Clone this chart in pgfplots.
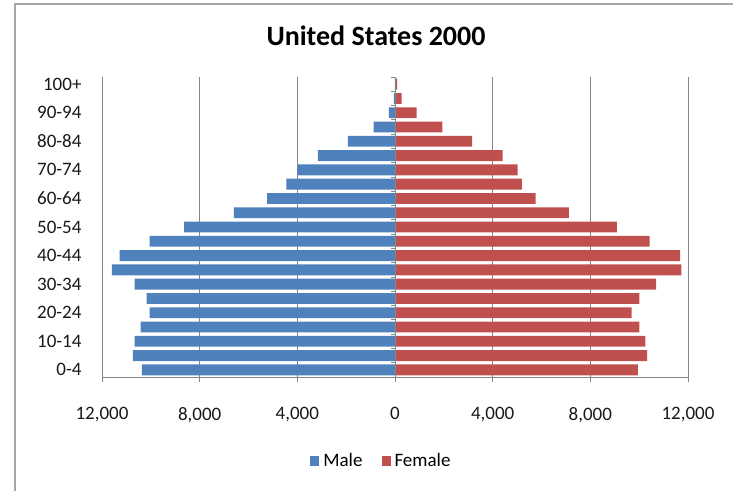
\documentclass[border=0pt]{standalone}
\usepackage{pgfplots}
\pgfplotsset{compat=1.18}
\usepackage{fontspec}
\setmainfont{Carlito}
\definecolor{male}{HTML}{4F81BD}
\definecolor{female}{HTML}{C0504D}
\definecolor{gridc}{HTML}{868686}
\definecolor{frame}{HTML}{A6A6A6}
\begin{document}
\begin{tikzpicture}
\useasboundingbox (0pt,0pt) rectangle (733pt,491pt);
\draw[frame,line width=1.2pt] (15pt,0pt) -- (15pt,487pt) -- (733pt,487pt);
\node[font=\fontsize{28}{32}\selectfont\bfseries] at (376pt,455pt) {United States 2000};
\begin{axis}[
  at={(102pt,114pt)}, anchor=south west,
  scale only axis, width=586pt, height=300pt,
  xmin=-12000, xmax=12000, ymin=-0.5, ymax=20.5,
  xbar, bar width=0.76, bar shift=0pt,
  axis x line*=bottom, axis y line*=left,
  y axis line style={draw=none},
  x axis line style={gridc, line width=0.9pt},
  tick align=outside,
  scaled x ticks=false,
  xtick={-12000,-8000,-4000,0,4000,8000,12000},
  xticklabels={{12,000},{8,000},{4,000},0,{4,000},{8,000},{12,000}},
  xtick style={gridc, line width=0.9pt},
  major tick length=5pt,
  xmajorgrids, grid style={gridc, line width=0.9pt},
  ytick={0,2,...,20},
  yticklabels={0-4,10-14,20-24,30-34,40-44,50-54,60-64,70-74,80-84,90-94,100+},
  ytick style={draw=none},
  ticklabel style={font=\fontsize{19}{22}\selectfont, text=black!90},
  yticklabel style={xshift=-12pt},
  xticklabel style={yshift=-22pt},
  legend style={at={(0.476,-0.28)}, anchor=center, draw=none, fill=none,
    legend columns=2, font=\fontsize{19}{22}\selectfont,
    nodes={inner sep=1pt},
    /tikz/every even column/.append style={column sep=18pt}},
  legend cell align=left,
  legend image code/.code={\path (0pt,0pt) -- (12pt,0pt); \path[#1,draw=none] (0pt,-5pt) rectangle (9pt,5pt);},
]
\addplot[fill=male, draw=none] coordinates {
(-10362,0) (-10731,1) (-10662,2) (-10416,3) (-10046,4) (-10169,5) (-10662,6)
(-11594,7) (-11278,8) (-10046,9) (-8637,10) (-6596,11) (-5241,12) (-4448,13)
(-3996,14) (-3162,15) (-1930,16) (-875,17) (-246,18) (-50,19) (-10,20)};
\addlegendentry{Male}
\addplot[fill=female, draw=none] coordinates {
(9951,0) (10321,1) (10251,2) (10005,3) (9692,4) (10005,5) (10690,6)
(11730,7) (11676,8) (10431,9) (9089,10) (7117,11) (5762,12) (5199,13)
(5023,14) (4407,15) (3162,16) (1943,17) (887,18) (271,19) (82,20)};
\addlegendentry{Female}
\draw[gridc, line width=0.9pt] (axis cs:0,-0.5) -- (axis cs:0,20.5);
\pgfplotsinvokeforeach{-0.5,0.5,...,20.5}{\draw[gridc, line width=0.9pt] (axis cs:0,#1) -- ++(-4pt,0pt);}
\end{axis}
\end{tikzpicture}
\end{document}
